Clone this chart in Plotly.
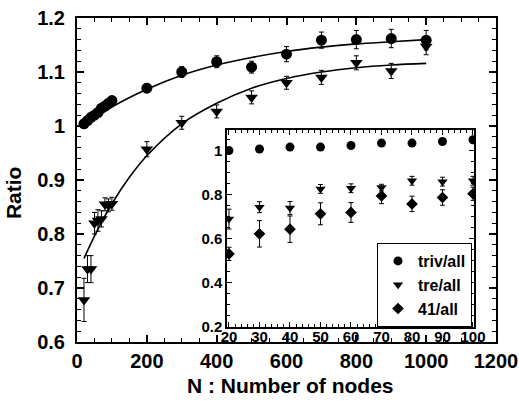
import plotly.graph_objects as go

# ---------------- data ----------------
N_small = [20, 30, 40, 50, 60, 70, 80, 90, 100]
N_large = [200, 300, 400, 500, 600, 700, 800, 900, 1000]

main_triv_small = [1.004, 1.010, 1.016, 1.020, 1.025, 1.033, 1.037, 1.042, 1.047]
main_triv_small_err = [0.005, 0.005, 0.005, 0.005, 0.005, 0.006, 0.006, 0.006, 0.006]
main_triv_large = [1.070, 1.100, 1.119, 1.109, 1.133, 1.159, 1.160, 1.162, 1.159]
main_triv_large_err = [0.008, 0.010, 0.011, 0.011, 0.014, 0.015, 0.017, 0.017, 0.018]

main_tre_small = [0.678, 0.735, 0.735, 0.820, 0.825, 0.828, 0.855, 0.853, 0.856]
main_tre_small_err = [0.040, 0.025, 0.025, 0.020, 0.020, 0.015, 0.012, 0.012, 0.012]
main_tre_large = [0.957, 1.006, 1.027, 1.053, 1.080, 1.090, 1.117, 1.102, 1.147]
main_tre_large_err = [0.014, 0.012, 0.012, 0.012, 0.012, 0.013, 0.013, 0.014, 0.015]

fit_triv_N = [20, 100, 200, 300, 400, 500, 600, 700, 800, 900, 1000]
fit_triv_y = [1.000, 1.035, 1.068, 1.094, 1.113, 1.127, 1.138, 1.146, 1.152, 1.156, 1.160]
fit_tre_N = [20, 60, 100, 150, 200, 300, 400, 500, 600, 700, 800, 900, 1000]
fit_tre_y = [0.755, 0.809, 0.856, 0.905, 0.945, 1.004, 1.042, 1.070, 1.088, 1.100, 1.108, 1.113, 1.116]

inset_triv = [1.001, 1.008, 1.017, 1.017, 1.024, 1.035, 1.035, 1.042, 1.050]
inset_tre = [0.690, 0.744, 0.740, 0.827, 0.830, 0.833, 0.864, 0.860, 0.864]
inset_tre_err = [0.045, 0.025, 0.030, 0.020, 0.020, 0.015, 0.020, 0.020, 0.020]
inset_41 = [0.532, 0.623, 0.644, 0.714, 0.720, 0.795, 0.759, 0.788, 0.805]
inset_41_err = [0.030, 0.060, 0.060, 0.050, 0.045, 0.035, 0.035, 0.035, 0.030]

series_names = ["triv/all", "tre/all", "41/all"]
main_xticks = [0, 200, 400, 600, 800, 1000, 1200]
inset_xticks = [20, 30, 40, 50, 60, 70, 80, 90, 100]

# ---------------- figure ----------------
FONT = "Liberation Sans"
fig = go.Figure()

def err(arr):
    return dict(type="data", array=arr, visible=True, color="black", thickness=1, width=2.5)

# main plot
fig.add_trace(go.Scatter(x=fit_triv_N, y=fit_triv_y, mode="lines", line=dict(color="black", width=1.6, shape="spline"),
                         showlegend=False, xaxis="x", yaxis="y"))
fig.add_trace(go.Scatter(x=fit_tre_N, y=fit_tre_y, mode="lines", line=dict(color="black", width=1.6, shape="spline"),
                         showlegend=False, xaxis="x", yaxis="y"))
fig.add_trace(go.Scatter(x=N_small + N_large, y=main_triv_small + main_triv_large,
                         error_y=err(main_triv_small_err + main_triv_large_err),
                         mode="markers", marker=dict(symbol="circle", size=11, color="black"),
                         showlegend=False, xaxis="x", yaxis="y"))
fig.add_trace(go.Scatter(x=N_small + N_large, y=main_tre_small + main_tre_large,
                         error_y=err(main_tre_small_err + main_tre_large_err),
                         mode="markers", marker=dict(symbol="triangle-down", size=11, color="black"),
                         showlegend=False, xaxis="x", yaxis="y"))

# inset
fig.add_trace(go.Scatter(x=N_small, y=inset_triv, name=series_names[0], mode="markers",
                         marker=dict(symbol="circle", size=9, color="black"), xaxis="x2", yaxis="y2"))
fig.add_trace(go.Scatter(x=N_small, y=inset_tre, name=series_names[1], mode="markers",
                         error_y=err(inset_tre_err),
                         marker=dict(symbol="triangle-down", size=9, color="black"), xaxis="x2", yaxis="y2"))
fig.add_trace(go.Scatter(x=N_small, y=inset_41, name=series_names[2], mode="markers",
                         error_y=err(inset_41_err),
                         marker=dict(symbol="diamond", size=9, color="black"), xaxis="x2", yaxis="y2"))

axis_common = dict(showline=True, linecolor="black", mirror="allticks", ticks="inside",
                   tickcolor="black", showgrid=False, zeroline=False, automargin=False)

fig.update_layout(
    template="none",
    width=519, height=405,
    margin=dict(l=77, r=23, t=18, b=63, autoexpand=False),
    paper_bgcolor="white", plot_bgcolor="white",
    font=dict(family=FONT, color="black", weight="bold"),
    xaxis=dict(domain=[0, 1], range=[0, 1200], tickvals=main_xticks, linewidth=2,
               ticklen=7, tickwidth=1.5, tickfont=dict(size=20, family=FONT, weight="bold"),
               minor=dict(dtick=50, ticklen=4, tickwidth=1.2, ticks="inside", tickcolor="black"),
               **axis_common),
    yaxis=dict(domain=[0, 1], range=[0.6, 1.2], dtick=0.1, linewidth=2,
               ticklen=7, tickwidth=1.5, tickfont=dict(size=20, family=FONT, weight="bold"),
               ticklabelstandoff=6,
               minor=dict(dtick=0.02, ticklen=4, tickwidth=1.2, ticks="inside", tickcolor="black"),
               **axis_common),
    xaxis2=dict(domain=[0.358, 0.9475], anchor="y2", range=[19.35, 100.33], tickvals=inset_xticks,
                linewidth=1.5, ticklen=5, tickwidth=1.2, tickfont=dict(size=15, family=FONT, weight="bold"),
                ticklabelstandoff=-5,
                minor=dict(dtick=2, ticklen=3, tickwidth=1, ticks="inside", tickcolor="black"),
                **axis_common),
    yaxis2=dict(domain=[0.0463, 0.654], anchor="x2", range=[0.2, 1.094], dtick=0.2,
                linewidth=1.5, ticklen=5, tickwidth=1.2, tickfont=dict(size=15, family=FONT, weight="bold"),
                minor=dict(dtick=0.05, ticklen=3, tickwidth=1, ticks="inside", tickcolor="black"),
                **axis_common),
    legend=dict(x=0.716, y=0.3056, xanchor="left", yanchor="top", bgcolor="white",
                bordercolor="black", borderwidth=1, font=dict(size=16, family=FONT, weight="bold"),
                itemwidth=30, tracegroupgap=0),
    annotations=[
        dict(text="N : Number of nodes", xref="paper", yref="paper", x=0.51, y=-0.133,
             xanchor="center", yanchor="middle", showarrow=False,
             font=dict(size=21, family=FONT, weight="bold")),
        dict(text="Ratio", xref="paper", yref="paper", x=-0.15, y=0.46, textangle=-90,
             xanchor="center", yanchor="middle", showarrow=False,
             font=dict(size=21, family=FONT, weight="bold")),
    ],
)

fig.write_html("out.html", config={"displayModeBar": False},
               post_script="document.body.style.margin='0';document.body.style.padding='0';")
